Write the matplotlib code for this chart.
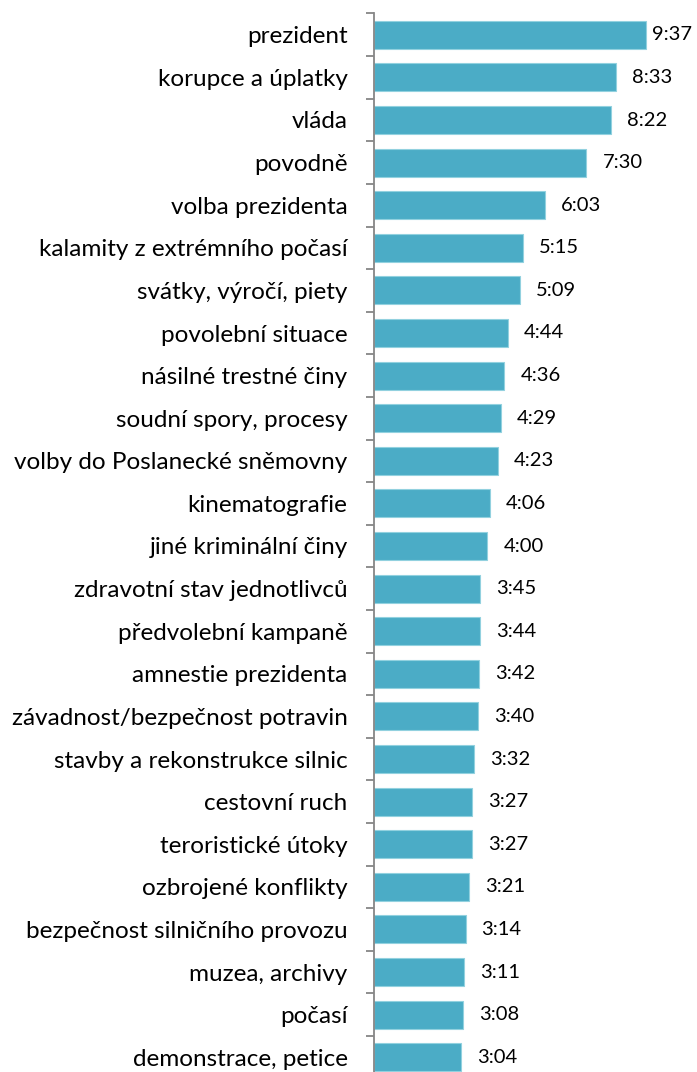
import matplotlib.pyplot as plt

categories = ['prezident', 'korupce a úplatky', 'vláda', 'povodně', 'volba prezidenta',
              'kalamity z extrémního počasí', 'svátky, výročí, piety', 'povolební situace',
              'násilné trestné činy', 'soudní spory, procesy', 'volby do Poslanecké sněmovny',
              'kinematografie', 'jiné kriminální činy', 'zdravotní stav jednotlivců',
              'předvolební kampaně', 'amnestie prezidenta', 'závadnost/bezpečnost potravin',
              'stavby a rekonstrukce silnic', 'cestovní ruch', 'teroristické útoky',
              'ozbrojené konflikty', 'bezpečnost silničního provozu', 'muzea, archivy',
              'počasí', 'demonstrace, petice']
labels = ['9:37', '8:33', '8:22', '7:30', '6:03', '5:15', '5:09', '4:44', '4:36', '4:29',
          '4:23', '4:06', '4:00', '3:45', '3:44', '3:42', '3:40', '3:32', '3:27', '3:27',
          '3:21', '3:14', '3:11', '3:08', '3:04']
seconds = [int(l.split(':')[0]) * 60 + int(l.split(':')[1]) for l in labels]

plt.rcParams['font.family'] = ['Lato', 'DejaVu Sans']

W, H = 697, 1072
px = 0.472  # pixels per second
fig = plt.figure(figsize=(W / 100, H / 100), dpi=100)
ax = fig.add_axes([374 / W, 0, 1 - 374 / W, (H - 13.5) / H])

y = list(range(len(categories)))
ax.barh(y, seconds, height=0.66, color='#4BACC6', edgecolor='#92D1DF', linewidth=0.8)

xmax = (W - 374) / px
for yi, s, lab in zip(y, seconds, labels):
    if s + (16 + 40) / px > xmax:
        # no room on the right: pull the label back in
        ax.text(xmax - 5 / px, yi, lab, va='center', ha='right', fontsize=14.5)
    else:
        ax.text(s + 16 / px, yi, lab, va='center', ha='left', fontsize=14.5)

ax.set_yticks(y)
ax.set_yticklabels(categories, fontsize=17.5)
ax.tick_params(axis='y', which='major', length=0, pad=19)
ax.set_yticks([i - 0.5 for i in range(len(categories) + 1)], minor=True)
ax.tick_params(axis='y', which='minor', length=6, width=1.3, color='#868686', direction='out')
ax.set_xticks([])
# limits after the ticks, set_yticks would widen them
ax.set_xlim(0, xmax)
ax.set_ylim(-0.5 + (H - 13.5) / 42.6, -0.5)
for side in ['top', 'right', 'bottom']:
    ax.spines[side].set_visible(False)
ax.spines['left'].set_color('#868686')
ax.spines['left'].set_linewidth(1.3)

fig.savefig('out.png', dpi=100)
